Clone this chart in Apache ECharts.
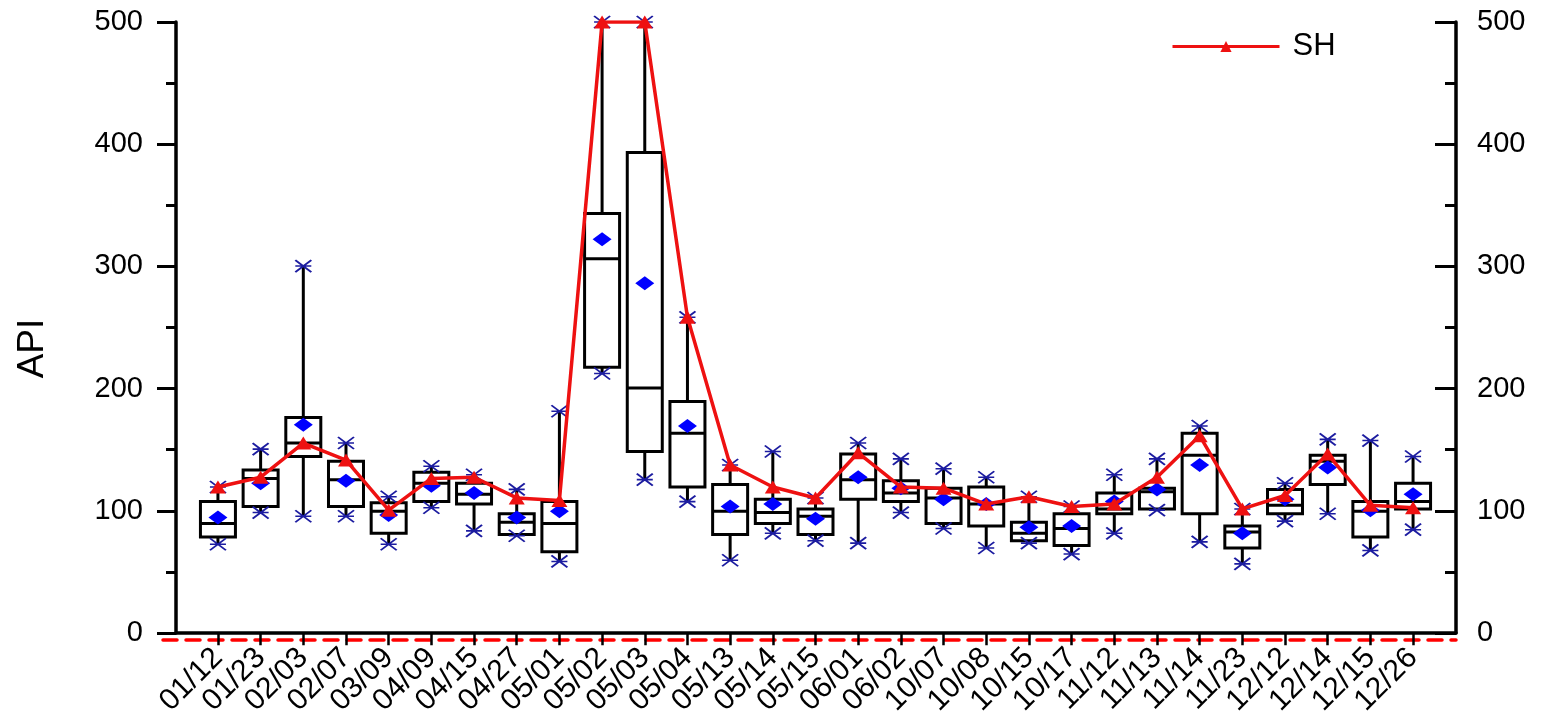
<!DOCTYPE html>
<html>
<head>
<meta charset="UTF-8">
<title>API box chart</title>
<script src="https://cdn.jsdelivr.net/npm/echarts@6/dist/echarts.min.js"></script>
<style>
  html, body { margin: 0; padding: 0; background: #fff; }
  #main { width: 1543px; height: 719px; }
</style>
</head>
<body>
<div id="main"></div>
<script>
// dates on the x axis
var categories = ['01/12','01/23','02/03','02/07','03/09','04/09','04/15','04/27','05/01','05/02',
                  '05/03','05/04','05/13','05/14','05/15','06/01','06/02','10/07','10/08','10/15',
                  '10/17','11/12','11/13','11/14','11/23','12/12','12/14','12/15','12/26'];
// box statistics
var minVals  = [72, 98, 95, 95, 72,102, 83, 79, 58,212,125,107, 59, 81, 75, 73, 98, 85, 69, 73, 64, 81,100, 74, 56, 91, 97, 67, 84];
var q1Vals   = [78,103,144,103, 81,107,105, 80, 66,217,148,119, 80, 89, 80,109,107, 89, 87, 75, 71, 97,101, 97, 69, 97,121, 78,101];
var medVals  = [89,126,155,125, 99,122,113, 90, 89,306,200,163, 99, 98, 95,125,114,110,105, 81, 85,101,115,145, 82,104,140, 99,107];
var q3Vals   = [107,133,176,140,106,131,122, 97,107,343,393,189,121,109,101,146,124,118,119, 90, 97,114,118,163, 87,117,145,107,122];
var maxVals  = [119,150,300,155,111,136,129,117,181,500,500,258,137,148,110,155,142,134,127,111,103,129,142,169,101,122,158,157,144];
var meanVals = [94,122,170,124, 96,120,114, 94, 99,322,286,169,103,105, 93,127,118,109,105, 86, 87,107,117,137, 81,109,135,100,113];
// SH station line
var shVals   = [119,127,155,141,100,126,127,110,108,500,500,258,137,119,110,147,119,118,105,111,103,105,127,161,101,112,146,104,102];

var font = 'Liberation Sans, Arial, sans-serif';
var boxData = categories.map(function (c, i) {
    return [i, minVals[i], q1Vals[i], medVals[i], q3Vals[i], maxVals[i]];
});

function renderBox(params, api) {
    var x = api.value(0);
    var pMin = api.coord([x, api.value(1)]);
    var pQ1 = api.coord([x, api.value(2)]);
    var pMed = api.coord([x, api.value(3)]);
    var pQ3 = api.coord([x, api.value(4)]);
    var pMax = api.coord([x, api.value(5)]);
    var w = api.size([1, 0])[0] * 0.82;
    var st = { stroke: '#000', lineWidth: 3, fill: null };
    return {
        type: 'group',
        children: [
            { type: 'line', shape: { x1: pMin[0], y1: pMin[1], x2: pQ1[0], y2: pQ1[1] }, style: st },
            { type: 'line', shape: { x1: pQ3[0], y1: pQ3[1], x2: pMax[0], y2: pMax[1] }, style: st },
            { type: 'rect', shape: { x: pQ3[0] - w / 2, y: pQ3[1], width: w, height: pQ1[1] - pQ3[1] },
              style: { stroke: '#000', lineWidth: 3, fill: '#fff' } },
            { type: 'line', shape: { x1: pMed[0] - w / 2, y1: pMed[1], x2: pMed[0] + w / 2, y2: pMed[1] }, style: st }
        ]
    };
}

var star = 'path://M0,0L10,10M10,0L0,10M0,5L10,5';
var chart = echarts.init(document.getElementById('main'));
chart.setOption({
    backgroundColor: '#fff',
    animation: false,
    legend: {
        data: ['SH'],
        left: 1166, top: 26,
        itemWidth: 107, itemHeight: 14,
        lineStyle: { width: 3 },
        textStyle: { fontFamily: font, fontSize: 31, color: '#000', padding: [0, 0, 0, 8] }
    },
    grid: [
        { left: 196.6, right: 108.6, top: 22, bottom: 86 },   // data
        { left: 176, right: 87, top: 22, bottom: 86 },        // frame
        { left: 163, right: 87, top: 22, bottom: 86 }         // red dashed base line
    ],
    xAxis: [
        {
            type: 'category', gridIndex: 0, data: categories, boundaryGap: true,
            axisLine: { show: false },
            axisTick: { show: true, alignWithLabel: true, length: 13, lineStyle: { color: '#000', width: 2.5 } },
            axisLabel: { rotate: 45, margin: 21, fontFamily: font, fontSize: 30, color: '#000', interval: 0 },
            splitLine: { show: false }
        },
        {
            type: 'value', gridIndex: 1, min: 0, max: 1,
            axisLine: { show: true, onZero: false, lineStyle: { color: '#000', width: 3.5 } },
            axisTick: { show: false }, axisLabel: { show: false }, splitLine: { show: false }
        },
        {
            type: 'value', gridIndex: 2, min: 0, max: 1, offset: 7,
            axisLine: { show: true, onZero: false, lineStyle: { color: '#ff0000', width: 3.5, type: [14, 9] } },
            axisTick: { show: false }, axisLabel: { show: false }, splitLine: { show: false }
        }
    ],
    yAxis: [
        { type: 'value', gridIndex: 0, min: 0, max: 500, show: false },
        {
            type: 'value', gridIndex: 1, min: 0, max: 500, interval: 100, position: 'left',
            name: 'API', nameLocation: 'middle', nameGap: 125, nameRotate: 90,
            nameTextStyle: { fontFamily: font, fontSize: 37, color: '#000', padding: [0, 42, 0, 0] },
            axisLine: { show: true, onZero: false, lineStyle: { color: '#000', width: 3.5 } },
            axisTick: { show: true, length: 19, lineStyle: { color: '#000', width: 3 } },
            minorTick: { show: true, splitNumber: 2, length: 10, lineStyle: { color: '#000', width: 3 } },
            axisLabel: { margin: 33, fontFamily: font, fontSize: 29, color: '#000' },
            splitLine: { show: false }
        },
        {
            type: 'value', gridIndex: 1, min: 0, max: 500, interval: 100, position: 'right',
            axisLine: { show: true, onZero: false, lineStyle: { color: '#000', width: 3.5 } },
            axisTick: { show: true, inside: true, length: 21, lineStyle: { color: '#000', width: 3 } },
            minorTick: { show: true, splitNumber: 2, length: 11, lineStyle: { color: '#000', width: 3 } },
            axisLabel: { margin: 21, fontFamily: font, fontSize: 29, color: '#000' },
            splitLine: { show: false }
        },
        { type: 'value', gridIndex: 2, min: 0, max: 500, show: false }
    ],
    series: [
        {
            name: 'box', type: 'custom', xAxisIndex: 0, yAxisIndex: 0, z: 2,
            renderItem: renderBox,
            encode: { x: 0, y: [1, 2, 3, 4, 5] },
            data: boxData
        },
        {
            name: 'max', type: 'scatter', xAxisIndex: 0, yAxisIndex: 0, z: 3,
            symbol: star, symbolSize: [16, 12],
            itemStyle: { color: 'none', borderColor: '#1c1ca0', borderWidth: 1.8, opacity: 1 },
            data: maxVals
        },
        {
            name: 'min', type: 'scatter', xAxisIndex: 0, yAxisIndex: 0, z: 3,
            symbol: star, symbolSize: [16, 12],
            itemStyle: { color: 'none', borderColor: '#1c1ca0', borderWidth: 1.8, opacity: 1 },
            data: minVals
        },
        {
            name: 'mean', type: 'scatter', xAxisIndex: 0, yAxisIndex: 0, z: 4,
            symbol: 'diamond', symbolSize: [19, 14],
            itemStyle: { color: '#0000ff', opacity: 1 },
            data: meanVals
        },
        {
            name: 'SH', type: 'line', xAxisIndex: 0, yAxisIndex: 0, z: 5,
            symbol: 'triangle', symbolSize: [16, 13],
            itemStyle: { color: '#ee1111' },
            lineStyle: { color: '#ee1111', width: 3.5 },
            data: shVals
        }
    ]
});
</script>
</body>
</html>
